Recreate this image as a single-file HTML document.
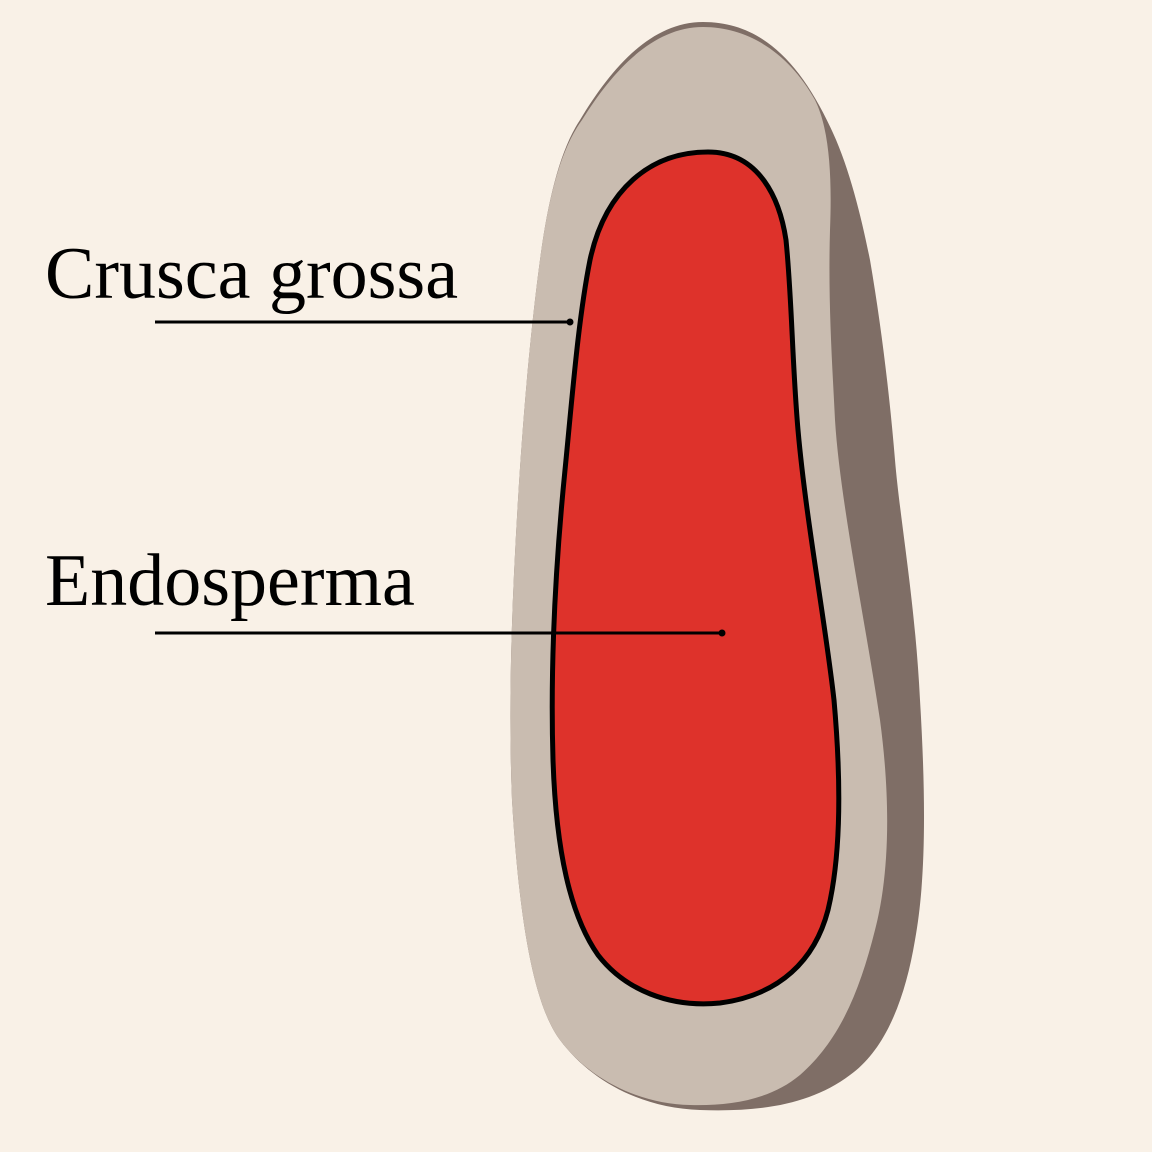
<!DOCTYPE html>
<html><head><meta charset="utf-8"><style>
html,body{margin:0;padding:0;background:#F9F1E7;}
svg{display:block}
</style></head><body>
<svg width="1152" height="1152" viewBox="0 0 1152 1152" xmlns="http://www.w3.org/2000/svg">
<rect width="1152" height="1152" fill="#F9F1E7"/>
<path d="M703,22 C760,22 800,60 833,133 C850,170 862,220 870,260 C882,330 890,400 895,460 C900,520 915,600 920,700 C926,800 926,880 915,940 C905,1000 885,1050 850,1075 C810,1105 760,1112 700,1110 C640,1108 590,1080 560,1040 C530,1000 518,900 512,800 C508,700 512,600 518,500 C524,400 532,320 540,260 C548,200 560,150 580,120 C610,70 650,22 703,22 Z" fill="#7F6E66"/>
<path d="M703,27 C750,27 790,55 815,100 C830,130 832,180 830,230 C828,300 832,360 835,420 C840,500 865,620 880,720 C892,810 888,880 875,930 C860,990 840,1040 800,1075 C770,1100 730,1106 690,1105 C640,1104 590,1080 560,1040 C530,1000 518,900 512,800 C508,700 512,600 518,500 C524,400 532,320 540,260 C548,200 560,150 582,120 C612,72 652,27 703,27 Z" fill="#C9BCB0"/>
<path d="M708,152 C760,152 780,200 786,240 C792,300 792,360 798,430 C806,520 825,620 834,700 C842,790 840,860 828,910 C815,960 780,995 720,1003 C670,1008 625,990 598,955 C570,915 556,850 553,760 C550,660 556,560 565,470 C572,400 578,320 590,260 C605,190 650,152 708,152 Z" fill="#DE322B" stroke="#000" stroke-width="5"/>
<line x1="155" y1="322" x2="570" y2="322" stroke="#000" stroke-width="3"/>
<circle cx="570" cy="322" r="3.5" fill="#000"/>
<line x1="155" y1="633" x2="722" y2="633" stroke="#000" stroke-width="3"/>
<circle cx="722" cy="633" r="3.5" fill="#000"/>
<text x="45" y="298" font-family="Liberation Serif, serif" font-size="74" fill="#000">Crusca grossa</text>
<text x="45" y="605" font-family="Liberation Serif, serif" font-size="74" fill="#000">Endosperma</text>
</svg>
</body></html>
